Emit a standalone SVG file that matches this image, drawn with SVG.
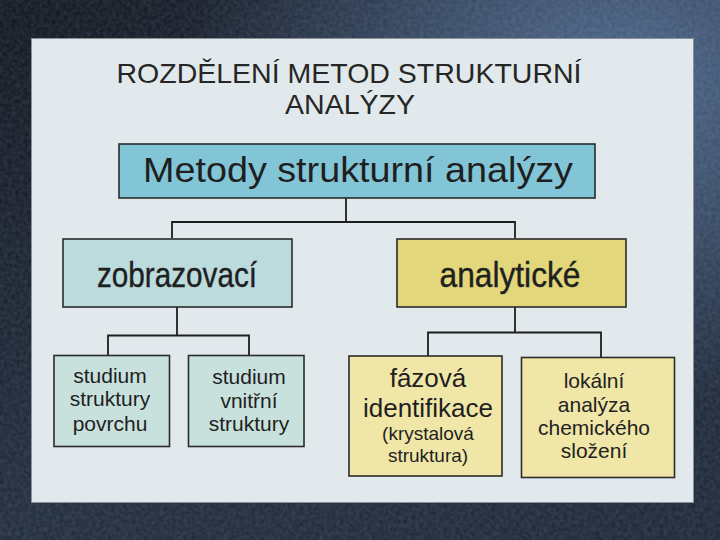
<svg xmlns="http://www.w3.org/2000/svg" width="720" height="540" viewBox="0 0 720 540">
<defs>
<linearGradient id="bg" x1="0" y1="0" x2="1" y2="1">
<stop offset="0" stop-color="#0c1019"/>
<stop offset="0.5" stop-color="#1c2738"/>
<stop offset="1" stop-color="#182232"/>
</linearGradient>
<radialGradient id="glow" cx="0.85" cy="0.15" r="0.6">
<stop offset="0" stop-color="#4f6a90" stop-opacity="0.9"/>
<stop offset="1" stop-color="#4f6a90" stop-opacity="0"/>
</radialGradient>
<filter id="tex" x="0" y="0" width="100%" height="100%">
<feTurbulence type="fractalNoise" baseFrequency="0.25" numOctaves="2" seed="3" result="n"/>
<feColorMatrix in="n" type="matrix" values="0 0 0 0 0.6  0 0 0 0 0.7  0 0 0 0 0.85  0 0 0 0.18 0"/>
</filter>
<style>
.box{stroke:#2b2b2b;stroke-width:1.6}
.con{fill:none;stroke:#1e1e1e;stroke-width:1.8}
text{font-family:"Liberation Sans",Arial,sans-serif;fill:#1f1f1f;text-anchor:middle}
.title{font-size:28.5px;fill:#262626}
.mid{font-size:35px;stroke:#1f1f1f;stroke-width:0.4}
.sm{font-size:21px}
</style>
</defs>
<rect width="720" height="540" fill="url(#bg)"/>
<rect width="720" height="540" fill="url(#glow)"/>
<rect width="720" height="540" filter="url(#tex)"/>
<rect x="31.5" y="38.5" width="662" height="464" fill="#e1e9ec" stroke="#8a9298" stroke-width="1"/>
<text class="title" x="349" y="83">ROZDĚLENÍ METOD STRUKTURNÍ</text>
<text class="title" x="350" y="114">ANALÝZY</text>
<g id="connectors">
<path class="con" d="M346 198V222M172 238V222H515V238"/>
<path class="con" d="M177 307V335.5M108 355V335.5H249V355"/>
<path class="con" d="M515 307V332.5M428 356V332.5H601V358"/>
</g>
<g id="root">
<rect class="box" x="119" y="144" width="476" height="54" fill="#82c5d7"/>
<text x="358" y="182" font-size="35" textLength="430" lengthAdjust="spacingAndGlyphs">Metody strukturní analýzy</text>
</g>
<g id="zobrazovaci">
<rect class="box" x="63" y="239" width="229" height="68" fill="#bcdbdd"/>
<text class="mid" x="177" y="287" textLength="160" lengthAdjust="spacingAndGlyphs">zobrazovací</text>
</g>
<g id="analyticke">
<rect class="box" x="397" y="239" width="229" height="68" fill="#e2d77a"/>
<text class="mid" x="510" y="287" textLength="141" lengthAdjust="spacingAndGlyphs">analytické</text>
</g>
<g id="povrch">
<rect class="box" x="54" y="355.5" width="115.5" height="91" fill="#c8e1dc"/>
<text class="sm" x="110" y="383">studium</text>
<text class="sm" x="110" y="406">struktury</text>
<text class="sm" x="110" y="431">povrchu</text>
</g>
<g id="vnitrni">
<rect class="box" x="188.5" y="355.5" width="115.5" height="91" fill="#c8e1dc"/>
<text class="sm" x="249" y="384">studium</text>
<text class="sm" x="249" y="408">vnitřní</text>
<text class="sm" x="249" y="431">struktury</text>
</g>
<g id="fazova">
<rect class="box" x="349" y="356" width="153" height="120" fill="#efe6a8"/>
<text x="428" y="387" font-size="26">fázová</text>
<text x="428" y="417" font-size="26">identifikace</text>
<text x="428" y="440" font-size="19">(krystalová</text>
<text x="428" y="462" font-size="19">struktura)</text>
</g>
<g id="lokalni">
<rect class="box" x="521.5" y="357.5" width="153" height="120" fill="#efe6a8"/>
<text class="sm" x="594" y="388">lokální</text>
<text class="sm" x="594" y="412">analýza</text>
<text class="sm" x="594" y="435">chemického</text>
<text class="sm" x="594" y="458">složení</text>
</g>
</svg>
